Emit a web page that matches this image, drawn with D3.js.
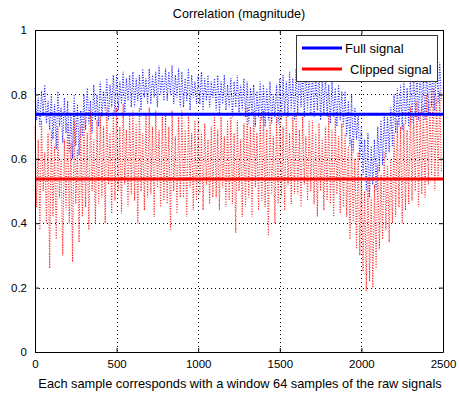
<!DOCTYPE html>
<html>
<head>
<meta charset="utf-8">
<script src="https://cdn.jsdelivr.net/npm/d3@7"></script>
<style>
  body { margin: 0; background: #fff; }
  svg { display: block; font-family: "Liberation Sans", Arial, sans-serif; }
</style>
</head>
<body>
<svg id="chart" width="459" height="394"></svg>
<script>
// samples are every 10 points of the 2500-sample window series
var sampleStep = 10;

var fullSignal = [
  0.82,0.72,0.79,0.70,0.81,0.74,0.83,0.71,0.78,0.69,
  0.80,0.66,0.77,0.63,0.81,0.70,0.76,0.65,0.79,0.68,
  0.78,0.62,0.74,0.60,0.80,0.64,0.77,0.61,0.75,0.67,
  0.80,0.69,0.82,0.71,0.78,0.68,0.83,0.72,0.80,0.70,
  0.84,0.73,0.81,0.75,0.85,0.72,0.83,0.76,0.86,0.74,
  0.86,0.75,0.84,0.77,0.87,0.74,0.85,0.78,0.86,0.76,
  0.87,0.76,0.85,0.78,0.86,0.75,0.88,0.79,0.85,0.77,
  0.88,0.77,0.86,0.79,0.87,0.76,0.89,0.80,0.86,0.78,
  0.88,0.78,0.87,0.80,0.89,0.77,0.86,0.79,0.88,0.76,
  0.87,0.76,0.85,0.78,0.88,0.75,0.86,0.79,0.84,0.77,
  0.86,0.77,0.87,0.75,0.85,0.78,0.86,0.76,0.84,0.79,
  0.85,0.75,0.86,0.74,0.84,0.77,0.86,0.75,0.83,0.76,
  0.85,0.73,0.84,0.76,0.86,0.74,0.83,0.75,0.85,0.73,
  0.84,0.71,0.82,0.74,0.83,0.70,0.81,0.73,0.84,0.72,
  0.83,0.70,0.82,0.72,0.84,0.71,0.80,0.73,0.83,0.71,
  0.85,0.72,0.86,0.74,0.84,0.73,0.87,0.75,0.85,0.72,
  0.88,0.74,0.90,0.76,0.87,0.73,0.89,0.75,0.88,0.74,
  0.87,0.73,0.86,0.75,0.88,0.72,0.85,0.74,0.86,0.73,
  0.83,0.71,0.84,0.73,0.82,0.70,0.83,0.72,0.81,0.70,
  0.81,0.67,0.78,0.64,0.80,0.62,0.76,0.66,0.74,0.60,
  0.70,0.55,0.66,0.50,0.68,0.48,0.64,0.52,0.66,0.50,
  0.70,0.56,0.72,0.58,0.74,0.60,0.73,0.62,0.76,0.64,
  0.80,0.68,0.82,0.70,0.83,0.69,0.84,0.71,0.82,0.70,
  0.85,0.71,0.86,0.73,0.87,0.72,0.88,0.74,0.86,0.72,
  0.88,0.74,0.90,0.76,0.91,0.75,0.92,0.77,0.90,0.78
];

var clippedSignal = [
  0.70,0.45,0.66,0.38,0.72,0.50,0.62,0.40,0.68,0.26,
  0.69,0.42,0.64,0.35,0.70,0.48,0.60,0.30,0.66,0.44,
  0.71,0.40,0.65,0.28,0.72,0.46,0.63,0.34,0.70,0.42,
  0.73,0.45,0.68,0.38,0.75,0.50,0.66,0.40,0.72,0.46,
  0.74,0.48,0.70,0.40,0.76,0.52,0.68,0.43,0.75,0.47,
  0.76,0.50,0.70,0.43,0.77,0.52,0.69,0.45,0.74,0.49,
  0.75,0.47,0.71,0.40,0.76,0.50,0.68,0.44,0.74,0.48,
  0.76,0.49,0.70,0.42,0.75,0.51,0.69,0.45,0.73,0.47,
  0.74,0.46,0.70,0.38,0.75,0.50,0.67,0.43,0.73,0.48,
  0.75,0.48,0.69,0.42,0.74,0.51,0.68,0.44,0.72,0.47,
  0.72,0.49,0.68,0.44,0.71,0.52,0.66,0.46,0.70,0.48,
  0.74,0.48,0.69,0.44,0.73,0.51,0.67,0.45,0.72,0.47,
  0.73,0.46,0.68,0.37,0.72,0.50,0.66,0.42,0.71,0.45,
  0.76,0.48,0.70,0.42,0.75,0.51,0.68,0.44,0.74,0.47,
  0.75,0.45,0.69,0.36,0.74,0.49,0.67,0.40,0.73,0.46,
  0.75,0.48,0.70,0.44,0.74,0.52,0.68,0.46,0.73,0.49,
  0.74,0.49,0.69,0.45,0.73,0.52,0.67,0.47,0.72,0.50,
  0.72,0.46,0.68,0.42,0.71,0.50,0.66,0.44,0.70,0.47,
  0.74,0.46,0.69,0.42,0.73,0.49,0.67,0.43,0.71,0.45,
  0.68,0.42,0.64,0.35,0.66,0.40,0.60,0.32,0.62,0.30,
  0.55,0.25,0.50,0.19,0.54,0.22,0.48,0.20,0.52,0.26,
  0.58,0.32,0.55,0.35,0.62,0.38,0.58,0.34,0.60,0.40,
  0.68,0.42,0.72,0.45,0.70,0.40,0.71,0.44,0.69,0.46,
  0.76,0.47,0.74,0.50,0.78,0.45,0.75,0.49,0.77,0.48,
  0.80,0.52,0.78,0.55,0.82,0.50,0.79,0.54,0.81,0.56
];

// averages drawn as solid horizontal lines
var meanFull = 0.738;
var meanClipped = 0.537;

var seriesNames = ['Full signal', 'Clipped signal'];
var seriesColors = ['#0000ff', '#ff0000'];
var xTicks = [0, 500, 1000, 1500, 2000, 2500];
var yTicks = [0, 0.2, 0.4, 0.6, 0.8, 1];

main();

function main() {
  var svg = d3.select('#chart');
  var plotLeft = 35, plotRight = 443, plotTop = 30, plotBottom = 352;

  var x = d3.scaleLinear().domain([0, 2500]).range([plotLeft, plotRight]);
  var y = d3.scaleLinear().domain([0, 1]).range([plotBottom, plotTop]);

  // grid
  var grid = svg.append('g')
    .attr('stroke', '#000')
    .attr('stroke-width', 1)
    .attr('stroke-dasharray', '1 3');
  grid.selectAll('line.gx')
    .data(xTicks.slice(1, -1))
    .enter().append('line')
    .attr('x1', function(d) { return Math.round(x(d)) + 0.5; })
    .attr('x2', function(d) { return Math.round(x(d)) + 0.5; })
    .attr('y1', plotTop).attr('y2', plotBottom);
  grid.selectAll('line.gy')
    .data(yTicks.slice(1, -1))
    .enter().append('line')
    .attr('y1', function(d) { return Math.round(y(d)) + 0.5; })
    .attr('y2', function(d) { return Math.round(y(d)) + 0.5; })
    .attr('x1', plotLeft).attr('x2', plotRight);

  // dotted data series
  var line = d3.line()
    .x(function(d, i) { return x(i * sampleStep); })
    .y(function(d) { return y(d); });

  [fullSignal, clippedSignal].forEach(function(values, k) {
    svg.append('path')
      .attr('d', line(values))
      .attr('fill', 'none')
      .attr('stroke', seriesColors[k])
      .attr('stroke-width', 1.1)
      .attr('stroke-opacity', 0.9)
      .attr('stroke-dasharray', '1 1.6');
  });

  // mean lines
  [meanFull, meanClipped].forEach(function(m, k) {
    svg.append('line')
      .attr('x1', x(0)).attr('x2', x(2500))
      .attr('y1', y(m)).attr('y2', y(m))
      .attr('stroke', seriesColors[k])
      .attr('stroke-width', 3);
  });

  // axes box with inward ticks
  var xAxis = d3.axisBottom(x).tickValues(xTicks).tickSizeInner(-4).tickSizeOuter(0).tickPadding(8)
    .tickFormat(d3.format('d'));
  var yAxis = d3.axisLeft(y).tickValues(yTicks).tickSizeInner(-4).tickSizeOuter(0).tickPadding(8)
    .tickFormat(d3.format('~g'));

  svg.append('g').attr('transform', 'translate(0,' + plotBottom + ')').call(xAxis);
  svg.append('g').attr('transform', 'translate(' + plotLeft + ',0)').call(yAxis);
  svg.append('g').attr('transform', 'translate(0,' + plotTop + ')')
    .call(d3.axisTop(x).tickValues(xTicks).tickSizeInner(-4).tickSizeOuter(0).tickFormat(''));
  svg.append('g').attr('transform', 'translate(' + plotRight + ',0)')
    .call(d3.axisRight(y).tickValues(yTicks).tickSizeInner(-4).tickSizeOuter(0).tickFormat(''));

  svg.selectAll('.domain').attr('stroke', '#000');
  svg.selectAll('.tick line').attr('stroke', '#000');
  svg.selectAll('.tick text')
    .attr('font-family', '"Liberation Sans", Arial, sans-serif')
    .attr('font-size', 11.5)
    .attr('fill', '#000');

  // title and label
  svg.append('text')
    .attr('x', (plotLeft + plotRight) / 2).attr('y', 18)
    .attr('text-anchor', 'middle')
    .attr('font-size', 12.6)
    .text('Correlation (magnitude)');
  svg.append('text')
    .attr('x', (plotLeft + plotRight) / 2 + 1).attr('y', 388)
    .attr('text-anchor', 'middle')
    .attr('font-size', 12.8)
    .text('Each sample corresponds with a window 64 samples of the raw signals');

  // legend
  var legend = svg.append('g');
  legend.append('rect')
    .attr('x', 296.5).attr('y', 35.5)
    .attr('width', 141).attr('height', 46)
    .attr('fill', '#fff')
    .attr('stroke', '#333');
  seriesNames.forEach(function(name, k) {
    var ly = 48 + k * 21;
    legend.append('line')
      .attr('x1', 302).attr('x2', 342)
      .attr('y1', ly).attr('y2', ly)
      .attr('stroke', seriesColors[k])
      .attr('stroke-width', 3);
    legend.append('text')
      .attr('x', k === 0 ? 345 : 350).attr('y', ly + 4.5)
      .attr('font-size', 13)
      .text(name);
  });
}
</script>
</body>
</html>
